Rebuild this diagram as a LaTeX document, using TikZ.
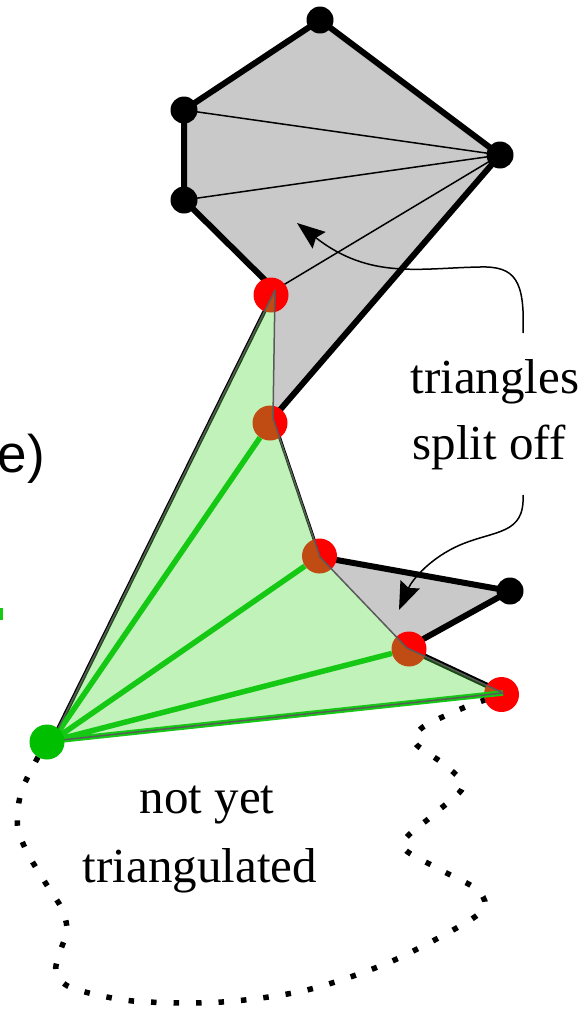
\documentclass[tikz,border=0pt]{standalone}
\usepackage{fontspec}
\setmainfont{Liberation Serif}
\newfontfamily\arialfont{Liberation Sans}
\usetikzlibrary{arrows.meta}
\definecolor{polygray}{RGB}{201,201,201}
\definecolor{fanfill}{RGB}{77,219,55}
\definecolor{fanline}{RGB}{20,200,20}
\definecolor{dotgreen}{RGB}{0,190,0}
\definecolor{edgegray}{RGB}{90,90,90}
\begin{document}
\begin{tikzpicture}[x=1pt,y=-1pt,
  thickedge/.style={line width=6pt, line join=round, line cap=round},
  thinedge/.style={line width=1.5pt},
  reddot/.style={circle, fill=red, inner sep=0pt, minimum size=35pt},
  blackdot/.style={circle, fill=black, inner sep=0pt, minimum size=27pt},
  greendot/.style={circle, fill=dotgreen, inner sep=0pt, minimum size=35pt},
  fanedge/.style={line width=5.5pt, draw=fanline},
  callout/.style={line width=1.5pt, -{Stealth[length=28pt,width=21pt,inset=4pt]}},
  lbl/.style={font=\fontsize{49}{68}\selectfont, inner sep=0pt},
  dotline/.style={line width=5.5pt, dash pattern=on 5.5pt off 17pt},
]
\useasboundingbox (0,0) rectangle (587,1010);

% vertices
\coordinate (top) at (320,20);
\coordinate (ul) at (184,110);
\coordinate (ll) at (184,200);
\coordinate (rt) at (500,155);
\coordinate (p1) at (275,290);
\coordinate (p2) at (273,418);
\coordinate (p3) at (320,557);
\coordinate (p4) at (407,648);
\coordinate (p5) at (503,693);
\coordinate (bk) at (510,591);
\coordinate (g) at (52,741);

% gray pieces
\fill[polygray] (top) -- (rt) -- (p2) -- (p1) -- (ll) -- (ul) -- cycle;
\fill[polygray] (p3) -- (bk) -- (p4) -- cycle;
\draw[thinedge] (ul) -- (rt) (ll) -- (rt) (p1) -- (rt);
\draw[thickedge] (p1) -- (ll) -- (ul) -- (top) -- (rt) -- (p2);
\draw[thickedge] (p3) -- (bk) -- (p4);

% black edges under the fan
\draw[line width=4pt] (g) -- (p1);
\draw[line width=3pt] (p2) -- (p3);
\draw[line width=5.5pt] (p4) -- (p5);

% red dots
\node[reddot] (r1) at (271,295) {};
\node[reddot] (r2) at (270,423) {};
\node[reddot] (r3) at (319.5,556) {};
\node[reddot] (r4) at (409,649) {};
\node[reddot] (r5) at (501.5,694.5) {};

% black dots
\node[blackdot] (dtop) at (top) {};
\node[blackdot] (dul) at (ul) {};
\node[blackdot] (dll) at (ll) {};
\node[blackdot] (drt) at (rt) {};
\node[blackdot] (dbk) at (bk) {};

% translucent fan polygon
\fill[fanfill, fill opacity=0.35]
  (g) -- (p1) -- (p2) -- (p3) -- (p4) -- (p5) -- cycle;

% green fan lines
\draw[fanedge] (g) -- (r2) (g) -- (r3) (g) -- (r4) (g) -- (p5);

% fan border
\draw[draw=edgegray, line width=1.5pt, line join=round]
  (g) -- (p1) -- (p2) -- (p3) -- (p4) -- (p5) -- cycle;

% dotted boundary not yet triangulated
\draw[dotline] plot[smooth, tension=0.5] coordinates {
  (38,757) (23,787) (18,808) (18,830) (27,852) (38,871) (50,890) (62,909)
  (67,930) (60,952) (56,972) (72,988) (133,1001) (222,1002) (307,990)
  (390,962) (467,922) (485,905) (475,888) (437,868) (402,845) (433,815)
  (463,787) (445,765) (415,743) (423,727) (463,708) (485,700)};

% green dot
\node[greendot] (gd) at (47,742) {};

% texts
\node[lbl, anchor=base] (t1) at (495,393) {triangles};
\node[lbl, anchor=base] (t2) at (489,459) {split off};
\node[lbl, anchor=base] (t3) at (207,813) {not yet};
\node[lbl, anchor=base] (t4) at (200,882) {triangulated};
\node[font=\arialfont\fontsize{53}{60}\selectfont, anchor=base east, inner sep=0pt] (e) at (45,472) {e)};
\fill[fanline] (0,608) rectangle (2.5,620);

% callout arrows
\coordinate (c1s) at (523,333);
\coordinate (c1e) at (297,223);
\draw[callout] (c1s) .. controls (525,280) and (515,266) .. (480,267)
  .. controls (420,268) and (370,280) .. (c1e);
\coordinate (c2s) at (523,495);
\coordinate (c2e) at (399,610);
\draw[callout] (c2s) .. controls (525,535) and (495,530) .. (460,545)
  .. controls (430,558) and (412,580) .. (c2e);
\end{tikzpicture}
\end{document}
